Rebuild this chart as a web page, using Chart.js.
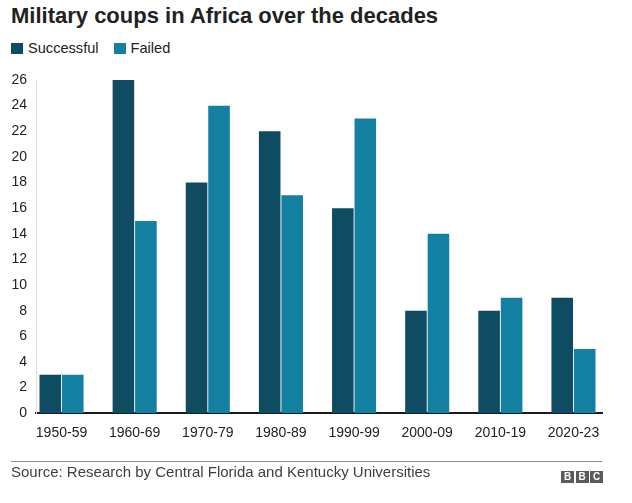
<!DOCTYPE html>
<html>
<head>
<meta charset="utf-8">
<script src="https://cdn.jsdelivr.net/npm/chart.js@4/dist/chart.umd.min.js"></script>
<style>
  html, body { margin: 0; padding: 0; background: #fff; }
  body { width: 632px; height: 503px; position: relative; overflow: hidden;
         font-family: "Liberation Sans", Arial, sans-serif; color: #222; }
  #title { position: absolute; left: 11px; top: 5px; font-size: 22px; line-height: 22px;
           font-weight: bold; color: #222; margin: 0; white-space: nowrap; }
  #legend { position: absolute; left: 11px; top: 41px; font-size: 14.6px; line-height: 15px;
            white-space: nowrap; color: #222; }
  #legend span.item { display: inline-block; margin-right: 15px; }
  #legend span.box { display: inline-block; width: 12px; height: 11px; margin-right: 5px;
                     vertical-align: -1px; }
  #chart { position: absolute; left: 0; top: 0; }
  #rule { position: absolute; left: 11px; top: 461px; width: 591px; height: 1px; background: #8a8a8a; }
  #source { position: absolute; left: 11px; top: 464px; font-size: 15px; line-height: 15px;
            color: #404040; white-space: nowrap; }
  #bbc { position: absolute; left: 561px; top: 471px; height: 12px; white-space: nowrap; font-size: 0; }
  #bbc span { display: inline-block; width: 13px; height: 12px; margin-right: 1.5px; background: #5b5b5b;
              color: #fff; font: bold 10px/12px "Liberation Sans", Arial, sans-serif; text-align: center; }
</style>
</head>
<body>
<h1 id="title">Military coups in Africa over the decades</h1>
<div id="legend"></div>
<canvas id="chart" width="632" height="480"></canvas>
<div id="rule"></div>
<div id="source">Source: Research by Central Florida and Kentucky Universities</div>
<div id="bbc"><span>B</span><span>B</span><span>C</span></div>

<script>
// data
const decades = ["1950-59", "1960-69", "1970-79", "1980-89", "1990-99", "2000-09", "2010-19", "2020-23"];
const successful = [3, 26, 18, 22, 16, 8, 8, 9];
const failed = [3, 15, 24, 17, 23, 14, 9, 5];
const yTicks = [0, 2, 4, 6, 8, 10, 12, 14, 16, 18, 20, 22, 24, 26];

const seriesNames = ["Successful", "Failed"];
const seriesColors = ["#0f4c62", "#1380a1"];

const FONT = '"Liberation Sans", Arial, sans-serif';

// HTML legend
const legendEl = document.getElementById("legend");
seriesNames.forEach((name, i) => {
    const item = document.createElement("span");
    item.className = "item";
    item.innerHTML = `<span class="box" style="background:${seriesColors[i]}"></span>${name}`;
    legendEl.appendChild(item);
});

// decade index on a linear x axis so the groups can sit close to the plot edges
const toPoints = arr => arr.map((v, i) => ({ x: i, y: v }));

new Chart(document.getElementById("chart"), {
    type: "bar",
    data: {
        datasets: [
            { label: seriesNames[0], data: toPoints(successful), backgroundColor: seriesColors[0] },
            { label: seriesNames[1], data: toPoints(failed), backgroundColor: seriesColors[1] }
        ]
    },
    options: {
        responsive: false,
        animation: false,
        devicePixelRatio: 1,
        layout: { padding: { top: 80, left: 0, right: 30, bottom: 26 } },
        datasets: {
            bar: { barPercentage: 0.96, categoryPercentage: 0.615, borderWidth: 0 }
        },
        plugins: {
            legend: { display: false },
            tooltip: { enabled: false }
        },
        scales: {
            x: {
                type: "linear",
                offset: false,
                min: -0.349,
                max: 7.39,
                afterBuildTicks: s => { s.ticks = decades.map((d, i) => ({ value: i })); },
                grid: { display: false, drawTicks: false },
                border: { display: true, color: "#1a1a1a", width: 2 },
                ticks: {
                    color: "#222", font: { family: FONT, size: 14 }, padding: 12,
                    maxRotation: 0, autoSkip: false,
                    callback: v => decades[v]
                }
            },
            y: {
                min: 0,
                max: 26,
                afterFit: s => { s.width = 36; },
                afterBuildTicks: s => { s.ticks = yTicks.map(v => ({ value: v })); },
                grid: { display: false, drawTicks: false },
                border: { display: true, color: "#dcdcdc", width: 1 },
                ticks: { color: "#222", font: { family: FONT, size: 14 }, padding: 9 }
            }
        }
    }
});
</script>
</body>
</html>
